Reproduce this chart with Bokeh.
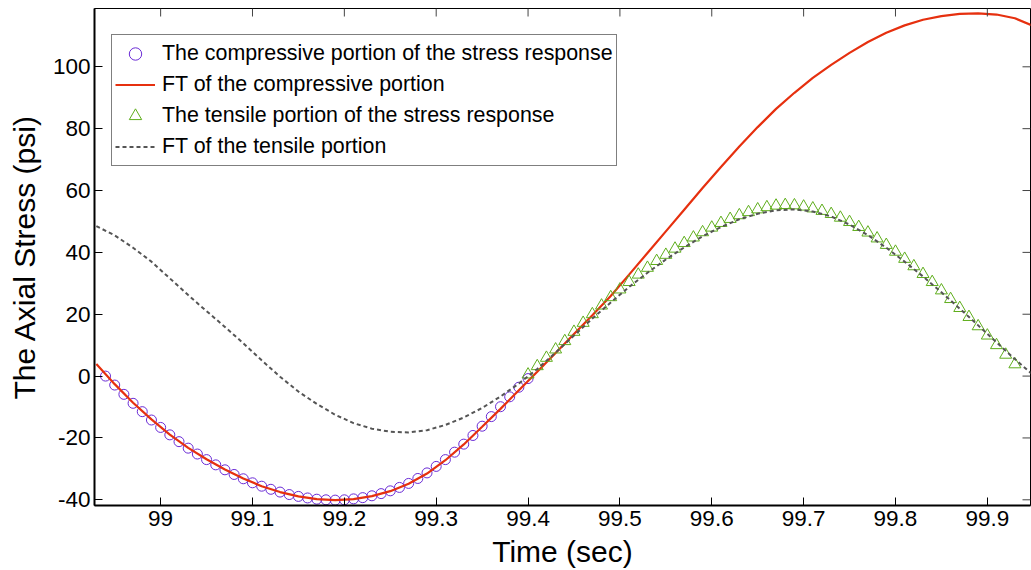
import numpy as np
from bokeh.plotting import figure
from bokeh.models import Range1d, FixedTicker, Legend, LegendItem
from bokeh.embed import file_html
from bokeh.resources import INLINE

# --- data -------------------------------------------------------------
# measured stress samples, taken every 0.01 s
comp_t0, tens_t0, dt = 98.94, 99.40, 0.01
comp_stress = [0.0, -2.9, -5.9, -8.8, -11.5, -14.2, -16.6, -19.0, -21.2, -23.3,
               -25.2, -27.0, -28.7, -30.3, -31.8, -33.2, -34.5, -35.6, -36.6, -37.5,
               -38.3, -38.9, -39.4, -39.8, -40.0, -40.1, -40.0, -39.7, -39.3, -38.7,
               -38.0, -37.1, -36.0, -34.7, -33.1, -31.3, -29.2, -27.0, -24.6, -22.0,
               -19.2, -16.2, -13.1, -9.9, -6.7, -3.6, -0.8]
tens_stress = [0.5, 3.2, 5.9, 8.6, 11.3, 14.3, 17.2, 20.0, 22.8, 25.5,
               28.0, 30.4, 32.8, 35.0, 37.2, 39.2, 41.2, 43.0, 44.8, 46.5,
               48.0, 49.5, 50.8, 52.0, 53.0, 53.9, 54.6, 55.1, 55.3, 55.2,
               54.8, 54.2, 53.4, 52.4, 51.2, 49.8, 48.2, 46.4, 44.5, 42.4,
               40.2, 37.9, 35.5, 33.0, 30.4, 27.7, 24.9, 22.0, 19.1, 16.1,
               13.1, 10.0, 6.9, 3.8]

# Fourier-series fits, evaluated every 0.02 s from 98.93 s
fit_t0, fit_dt = 98.93, 0.02
fit_comp = [3.9, -2.6, -8.6, -14.0, -18.9, -23.2, -26.9, -30.2, -33.1, -35.6,
            -37.5, -38.9, -39.8, -40.1, -39.8, -38.8, -37.2, -34.8, -31.5, -27.2,
            -22.1, -16.4, -10.6, -4.6, 1.4, 7.5, 13.6, 19.7, 25.9, 32.8,
            39.8, 46.8, 53.8, 60.8, 67.6, 74.2, 80.5, 86.4, 91.6, 96.4,
            100.6, 104.5, 108.0, 111.0, 113.4, 115.2, 116.4, 117.1, 117.3, 116.9,
            115.7, 113.2]
fit_tens = [48.5, 45.5, 41.5, 37.0, 31.6, 26.2, 21.0, 15.9, 10.6, 5.1,
            -0.2, -5.0, -9.0, -12.5, -15.2, -17.0, -18.0, -18.2, -17.5, -15.8,
            -13.4, -10.3, -6.6, -2.4, 2.3, 7.6, 13.1, 18.6, 23.8, 28.8,
            33.4, 37.7, 41.6, 45.2, 48.2, 50.7, 52.5, 53.6, 53.9, 53.2,
            51.6, 49.0, 45.6, 41.5, 37.0, 32.2, 27.1, 21.8, 16.4, 10.9,
            5.5, 0.3]

x_ticks = [99.0, 99.1, 99.2, 99.3, 99.4, 99.5, 99.6, 99.7, 99.8, 99.9]
x_tick_labels = ["99", "99.1", "99.2", "99.3", "99.4", "99.5", "99.6", "99.7", "99.8", "99.9"]
y_ticks = [-40, -20, 0, 20, 40, 60, 80, 100]
y_tick_labels = ["-40", "-20", "0", "20", "40", "60", "80", "100"]

x_min, x_max = 98.928, 99.947
y_min, y_max = -41.84, 118.85

comp_t = np.round(comp_t0 + dt * np.arange(len(comp_stress)), 3)
tens_t = np.round(tens_t0 + dt * np.arange(len(tens_stress)), 3)
fit_t = np.round(fit_t0 + fit_dt * np.arange(len(fit_comp)), 3)

# --- styling ----------------------------------------------------------
FONT = "Liberation Sans"
PURPLE = "#6a2bd6"
RED = "#e6300f"
GREEN = "#5fae1c"
GRAY = "#555555"

p = figure(width=1031, height=570, output_backend="svg", toolbar_location=None,
           x_range=Range1d(x_min, x_max), y_range=Range1d(y_min, y_max),
           min_border_left=94, min_border_right=1, min_border_top=8,
           min_border_bottom=65)
p.grid.visible = False
p.background_fill_color = "white"
p.border_fill_color = "white"
p.outline_line_color = "black"
p.outline_line_width = 1

r_comp = p.scatter(comp_t, comp_stress, marker="circle", size=10,
                   fill_color=None, line_color=PURPLE, line_width=1)
r_fit_comp = p.line(fit_t, fit_comp, line_color=RED, line_width=2.2)
r_tens = p.scatter(tens_t, tens_stress, marker="triangle", size=12,
                   fill_color=None, line_color=GREEN, line_width=1)
r_fit_tens = p.line(fit_t, fit_tens, line_color=GRAY, line_width=2,
                    line_dash="4 3")

# inward tick marks mirrored on the top and right edges of the box
p.ray(x=x_ticks, y=[y_max] * len(x_ticks), length=8, length_units="screen",
      angle=-np.pi / 2, line_color="#444444", line_width=1)
p.ray(x=[x_max] * len(y_ticks), y=y_ticks, length=8, length_units="screen",
      angle=np.pi, line_color="#444444", line_width=1)

# main axes
for ax in (p.xaxis[0], p.yaxis[0]):
    ax.axis_line_width = 2
    ax.axis_line_color = "black"
    ax.major_tick_in = 8
    ax.major_tick_out = 0
    ax.major_tick_line_color = "black"
    ax.minor_tick_in = 0
    ax.minor_tick_out = 0
    ax.major_label_text_font = FONT
    ax.major_label_text_font_size = "22.5px"
    ax.major_label_text_color = "black"
    ax.axis_label_text_font = FONT
    ax.axis_label_text_font_size = "30px"
    ax.axis_label_text_font_style = "normal"
    ax.axis_label_text_color = "black"

p.xaxis[0].ticker = FixedTicker(ticks=x_ticks)
p.xaxis[0].major_label_overrides = dict(zip(x_ticks, x_tick_labels))
p.xaxis[0].axis_label = "Time (sec)"
p.xaxis[0].major_label_standoff = 5
p.xaxis[0].axis_label_standoff = 6

p.yaxis[0].ticker = FixedTicker(ticks=y_ticks)
p.yaxis[0].major_label_overrides = dict(zip(y_ticks, y_tick_labels))
p.yaxis[0].axis_label = "The Axial Stress (psi)"
p.yaxis[0].major_label_standoff = 4
p.yaxis[0].axis_label_standoff = 9

legend = Legend(items=[
    LegendItem(label="The compressive portion of the stress response", renderers=[r_comp]),
    LegendItem(label="FT of the compressive portion", renderers=[r_fit_comp]),
    LegendItem(label="The tensile portion of the stress response", renderers=[r_tens]),
    LegendItem(label="FT of the tensile portion", renderers=[r_fit_tens]),
], location=(17, 339))
legend.label_text_font = FONT
legend.label_text_font_size = "21.4px"
legend.label_text_color = "black"
legend.border_line_color = "black"
legend.border_line_width = 1
legend.background_fill_color = "white"
legend.background_fill_alpha = 1
legend.glyph_width = 40
legend.glyph_height = 31
legend.label_height = 31
legend.spacing = 0
legend.padding = 3
legend.margin = 0
legend.label_standoff = 7
p.add_layout(legend, "center")

open("out.html", "w").write(file_html(p, INLINE))
